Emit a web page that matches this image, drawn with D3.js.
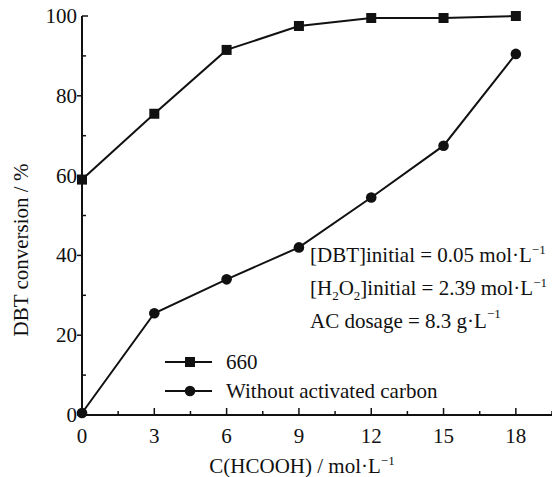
<!DOCTYPE html>
<html>
<head>
<meta charset="utf-8">
<script src="https://cdn.jsdelivr.net/npm/d3@7"></script>
<style>
  body { margin: 0; background: #fff; }
  svg text { font-family: "Liberation Serif", "Times New Roman", serif; fill: #111; }
</style>
</head>
<body>
<svg id="chart" width="552" height="477"></svg>
<script>
// --- Data ---
const hcooh = [0, 3, 6, 9, 12, 15, 18];
const ac660 = [59, 75.5, 91.5, 97.5, 99.5, 99.5, 100];
const noCarbon = [0.5, 25.5, 34, 42, 54.5, 67.5, 90.5];
const xTicks = [0, 3, 6, 9, 12, 15, 18];
const yTicks = [0, 20, 40, 60, 80, 100];
const seriesNames = ["660", "Without activated carbon"];

const svg = d3.select("#chart");
const x = d3.scaleLinear().domain([0, 19.5]).range([82, 552]);
const y = d3.scaleLinear().domain([0, 100]).range([415, 16]);

const ink = "#111";
const fs = 21;

// --- Axes ---
svg.append("line")
  .attr("x1", x(0)).attr("x2", x(19.5))
  .attr("y1", y(0)).attr("y2", y(0))
  .attr("stroke", ink).attr("stroke-width", 2);
svg.append("line")
  .attr("x1", x(0)).attr("x2", x(0))
  .attr("y1", y(0)).attr("y2", y(100))
  .attr("stroke", ink).attr("stroke-width", 2);

// x ticks (inward)
const xMinor = d3.range(1.5, 20, 3);
svg.selectAll(".xmaj").data(xTicks).join("line")
  .attr("x1", d => x(d)).attr("x2", d => x(d))
  .attr("y1", y(0)).attr("y2", y(0) - 7)
  .attr("stroke", ink).attr("stroke-width", 1.5);
svg.selectAll(".xmin").data(xMinor).join("line")
  .attr("x1", d => x(d)).attr("x2", d => x(d))
  .attr("y1", y(0)).attr("y2", y(0) - 4)
  .attr("stroke", ink).attr("stroke-width", 1.5);
svg.selectAll(".xlab").data(xTicks).join("text")
  .attr("x", d => x(d)).attr("y", 443)
  .attr("text-anchor", "middle").attr("font-size", fs)
  .text(d => d);

// y ticks: major outward, minor inward
const yMinor = d3.range(10, 100, 20);
svg.selectAll(".ymaj").data(yTicks.filter(d => d < 100)).join("line")
  .attr("x1", x(0) - 5).attr("x2", x(0))
  .attr("y1", d => y(d)).attr("y2", d => y(d))
  .attr("stroke", ink).attr("stroke-width", 1.5);
svg.append("line")
  .attr("x1", x(0)).attr("x2", x(0) + 6)
  .attr("y1", y(100)).attr("y2", y(100))
  .attr("stroke", ink).attr("stroke-width", 1.5);
svg.selectAll(".ymin").data(yMinor).join("line")
  .attr("x1", x(0)).attr("x2", x(0) + 4)
  .attr("y1", d => y(d)).attr("y2", d => y(d))
  .attr("stroke", ink).attr("stroke-width", 1.5);
svg.selectAll(".ylab").data(yTicks).join("text")
  .attr("x", 77).attr("y", d => y(d) + 7)
  .attr("text-anchor", "end").attr("font-size", fs)
  .text(d => d);

// axis titles
svg.append("text")
  .attr("transform", "translate(28,250) rotate(-90)")
  .attr("text-anchor", "middle").attr("font-size", fs)
  .text("DBT conversion / %");
const xt = svg.append("text")
  .attr("x", 302).attr("y", 473)
  .attr("text-anchor", "middle").attr("font-size", fs);
xt.append("tspan").text("C(HCOOH) / mol\u00B7L");
xt.append("tspan").attr("dy", -8).attr("font-size", 13).text("\u22121");

// --- Lines & markers ---
const line = d3.line().x(d => x(d[0])).y(d => y(d[1]));
const s1 = hcooh.map((h, i) => [h, ac660[i]]);
const s2 = hcooh.map((h, i) => [h, noCarbon[i]]);

[s1, s2].forEach(s => {
  svg.append("path").datum(s)
    .attr("d", line).attr("fill", "none")
    .attr("stroke", ink).attr("stroke-width", 2);
});
svg.selectAll(".sq").data(s1).join("rect")
  .attr("x", d => x(d[0]) - 5).attr("y", d => y(d[1]) - 5)
  .attr("width", 10).attr("height", 10).attr("fill", ink);
svg.selectAll(".ci").data(s2).join("circle")
  .attr("cx", d => x(d[0])).attr("cy", d => y(d[1]))
  .attr("r", 5.3).attr("fill", ink);

// --- Legend ---
const legY = [362, 391];
seriesNames.forEach((name, i) => {
  const ly = legY[i];
  svg.append("line").attr("x1", 165).attr("x2", 212)
    .attr("y1", ly).attr("y2", ly)
    .attr("stroke", ink).attr("stroke-width", 2);
  if (i === 0) {
    svg.append("rect").attr("x", 185).attr("y", ly - 5)
      .attr("width", 10).attr("height", 10).attr("fill", ink);
  } else {
    svg.append("circle").attr("cx", 190).attr("cy", ly).attr("r", 5.3).attr("fill", ink);
  }
  svg.append("text").attr("x", 226).attr("y", ly + 7)
    .attr("font-size", fs).text(name);
});

// --- Annotation ---
const a1 = svg.append("text").attr("x", 310).attr("y", 262).attr("font-size", fs);
a1.append("tspan").text("[DBT]initial = 0.05 mol\u00B7L");
a1.append("tspan").attr("dy", -8).attr("font-size", 13).text("\u22121");

const a2 = svg.append("text").attr("x", 310).attr("y", 295).attr("font-size", fs);
a2.append("tspan").text("[H");
a2.append("tspan").attr("dy", 5).attr("font-size", 13).text("2");
a2.append("tspan").attr("dy", -5).text("O");
a2.append("tspan").attr("dy", 5).attr("font-size", 13).text("2");
a2.append("tspan").attr("dy", -5).text("]initial = 2.39 mol\u00B7L");
a2.append("tspan").attr("dy", -8).attr("font-size", 13).text("\u22121");

const a3 = svg.append("text").attr("x", 310).attr("y", 328).attr("font-size", fs);
a3.append("tspan").text("AC dosage = 8.3 g\u00B7L");
a3.append("tspan").attr("dy", -10).attr("font-size", 13).text("\u22121");
</script>
</body>
</html>
